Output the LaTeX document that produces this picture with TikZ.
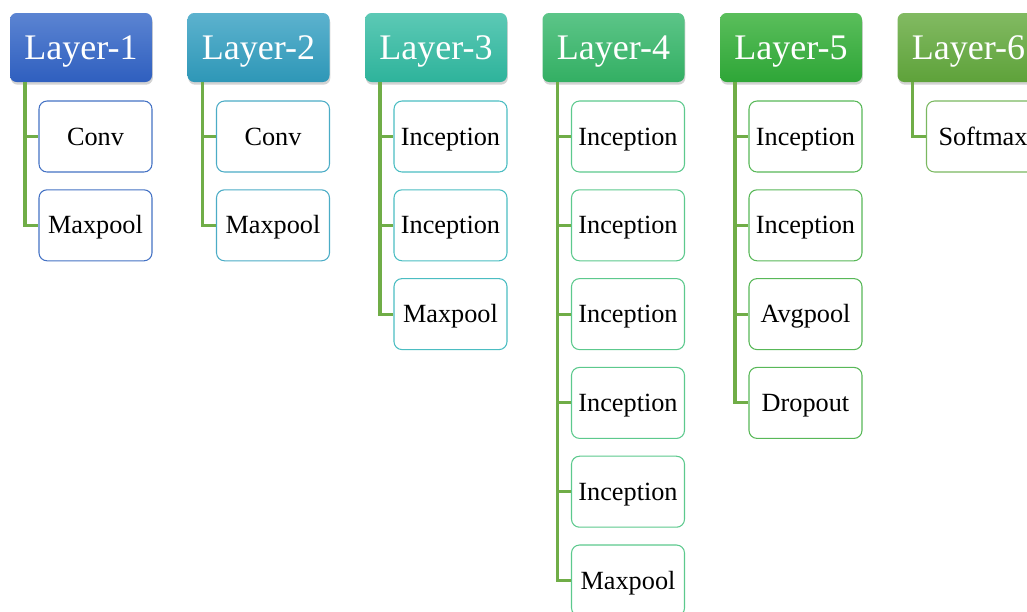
\documentclass[tikz,border=0pt]{standalone}
\usepackage{fontspec}
\setmainfont{Liberation Serif}
\usepackage{xcolor}
\definecolor{cunoa}{HTML}{5B84D2}
\definecolor{cunob}{HTML}{2F5FBF}
\definecolor{cunob2}{HTML}{4472C4}
\definecolor{cdosa}{HTML}{5CB2CE}
\definecolor{cdosb}{HTML}{2E97B7}
\definecolor{cdos2}{HTML}{4BACC6}
\definecolor{ctresa}{HTML}{5CC9B5}
\definecolor{ctresb}{HTML}{2EB39B}
\definecolor{ctres2}{HTML}{4BBDC2}
\definecolor{ccuatroa}{HTML}{5CC588}
\definecolor{ccuatrob}{HTML}{33AF63}
\definecolor{ccuatro2}{HTML}{5CC98D}
\definecolor{ccincoa}{HTML}{5ABE5B}
\definecolor{ccincob}{HTML}{2EA637}
\definecolor{ccinco2}{HTML}{58B858}
\definecolor{cseisa}{HTML}{82BA62}
\definecolor{cseisb}{HTML}{5EA23A}
\definecolor{cseis2}{HTML}{7AB860}
\definecolor{crama}{HTML}{70AD47}
\usepackage{tikz}
\usetikzlibrary{positioning, shadows}

\tikzset{
  capa/.style={rounded corners=5pt, inner sep=0pt, minimum width=106.5pt, minimum height=51.75pt,
    text=white, font=\fontsize{27}{30}\selectfont, text height=17.9pt, text depth=0pt,
    drop shadow={opacity=0.35, shadow xshift=0.6pt, shadow yshift=-2pt}},
  hijo/.style={draw, fill=white, rounded corners=6pt, line width=0.8pt, inner sep=0pt,
    minimum width=84.75pt, minimum height=53.25pt, font=\fontsize{19.7}{22}\selectfont,
    text height=13pt, text depth=0pt},
  rama/.style={crama, line width=2.3pt}
}

\begin{document}
\begin{tikzpicture}[x=0.75pt, y=-0.75pt]
  \useasboundingbox (0,0) rectangle (1027,611);
  % Cabeceras
  \node[capa, top color=cunoa, bottom color=cunob] (l1) at (81,47.5) {Layer-1};
  \node[capa, top color=cdosa, bottom color=cdosb] (l2) at (258.5,47.5) {Layer-2};
  \node[capa, top color=ctresa, bottom color=ctresb] (l3) at (436,47.5) {Layer-3};
  \node[capa, top color=ccuatroa, bottom color=ccuatrob] (l4) at (613.5,47.5) {Layer-4};
  \node[capa, top color=ccincoa, bottom color=ccincob] (l5) at (791,47.5) {Layer-5};
  \node[capa, top color=cseisa, bottom color=cseisb] (l6) at (968.5,47.5) {Layer-6};
  % Capa 1
  \node[hijo, draw=cunob2] (l1a) at (95.5,136.5) {Conv};
  \node[hijo, draw=cunob2] (l1b) at (95.5,225.3) {Maxpool};
  % Capa 2
  \node[hijo, draw=cdos2] (l2a) at (273,136.5) {Conv};
  \node[hijo, draw=cdos2] (l2b) at (273,225.3) {Maxpool};
  % Capa 3
  \node[hijo, draw=ctres2] (l3a) at (450.5,136.5) {Inception};
  \node[hijo, draw=ctres2] (l3b) at (450.5,225.3) {Inception};
  \node[hijo, draw=ctres2] (l3c) at (450.5,314.1) {Maxpool};
  % Capa 4
  \node[hijo, draw=ccuatro2] (l4a) at (628,136.5) {Inception};
  \node[hijo, draw=ccuatro2] (l4b) at (628,225.3) {Inception};
  \node[hijo, draw=ccuatro2] (l4c) at (628,314.1) {Inception};
  \node[hijo, draw=ccuatro2] (l4d) at (628,402.9) {Inception};
  \node[hijo, draw=ccuatro2] (l4e) at (628,491.7) {Inception};
  \node[hijo, draw=ccuatro2] (l4f) at (628,580.5) {Maxpool};
  % Capa 5
  \node[hijo, draw=ccinco2] (l5a) at (805.5,136.5) {Inception};
  \node[hijo, draw=ccinco2] (l5b) at (805.5,225.3) {Inception};
  \node[hijo, draw=ccinco2] (l5c) at (805.5,314.1) {Avgpool};
  \node[hijo, draw=ccinco2] (l5d) at (805.5,402.9) {Dropout};
  % Capa 6
  \node[hijo, draw=cseis2] (l6a) at (983,136.5) {Softmax};
  % Ramas
  \coordinate (t1) at (25,82);
  \coordinate (t2) at (202.5,82);
  \coordinate (t3) at (380,82);
  \coordinate (t4) at (557.5,82);
  \coordinate (t5) at (735,82);
  \coordinate (t6) at (912.5,82);
  \draw[rama] (t1) |- (l1a.west);
  \draw[rama] (t1) |- (l1b.west);
  \draw[rama] (t2) |- (l2a.west);
  \draw[rama] (t2) |- (l2b.west);
  \draw[rama] (t3) |- (l3a.west);
  \draw[rama] (t3) |- (l3b.west);
  \draw[rama] (t3) |- (l3c.west);
  \draw[rama] (t4) |- (l4a.west);
  \draw[rama] (t4) |- (l4b.west);
  \draw[rama] (t4) |- (l4c.west);
  \draw[rama] (t4) |- (l4d.west);
  \draw[rama] (t4) |- (l4e.west);
  \draw[rama] (t4) |- (l4f.west);
  \draw[rama] (t5) |- (l5a.west);
  \draw[rama] (t5) |- (l5b.west);
  \draw[rama] (t5) |- (l5c.west);
  \draw[rama] (t5) |- (l5d.west);
  \draw[rama] (t6) |- (l6a.west);
\end{tikzpicture}
\end{document}
